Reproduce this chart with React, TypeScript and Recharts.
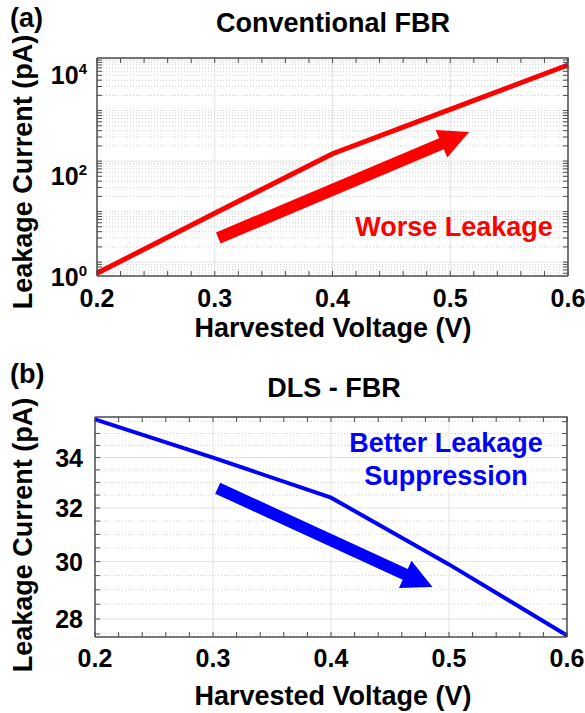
import { Line, LineChart, ReferenceLine, XAxis, YAxis } from "recharts";

const voltage = [0.2, 0.3, 0.4, 0.5, 0.6];
const conventionalLeakage = [0.6, 9.3, 140, 1060, 8000];
const dlsLeakage = [35.6, 34.0, 32.4, 29.9, 27.45];

const xMajorTicks = [0.2, 0.3, 0.4, 0.5, 0.6];
const xMinorTicks = [
  0.2, 0.22, 0.24, 0.26, 0.28, 0.3, 0.32, 0.34, 0.36, 0.38, 0.4, 0.42, 0.44, 0.46, 0.48, 0.5, 0.52,
  0.54, 0.56, 0.58, 0.6,
];
const logMajorTicks = [1, 100, 10000];
const linMajorTicks = [28, 30, 32, 34];
const linMinorTicks = [
  27.5, 28, 28.5, 29, 29.5, 30, 30.5, 31, 31.5, 32, 32.5, 33, 33.5, 34, 34.5, 35, 35.5,
];

// arrow annotations, in data units (tail -> tip)
const worseArrow = [
  { x: 0.303, y: 3.0 },
  { x: 0.516, y: 375 },
];
const betterArrow = [
  { x: 0.304, y: 32.77 },
  { x: 0.486, y: 29.1 },
];

const X_DOMAIN: [number, number] = [0.2, 0.6];
const LOG_DOMAIN: [number, number] = [0.53, 11000];
const LIN_DOMAIN: [number, number] = [27.4, 35.7];

// minor ticks of the log axis: 1..9 per decade
const logMinorTicks: number[] = [];
for (const decade of [0.1, 1, 10, 100, 1000]) {
  for (let m = 1; m <= 9; m++) {
    const v = +(m * decade).toPrecision(3);
    if (v >= LOG_DOMAIN[0]) logMinorTicks.push(v);
  }
}
logMinorTicks.push(10000);

// page layout: where each chart sits and where its plot box is
const W = 585;
const PANEL_A = { top: 0, height: 345, left: 97, plotTop: 58, right: 568, bottom: 276 };
const PANEL_B = { top: 345, height: 368, left: 95, plotTop: 417, right: 567, bottom: 637 };

const FONT = "'Liberation Sans', Arial, sans-serif";
const FRAME = "#4a4a4a";
const GRID = "#e2e2e2";
const MINOR_GRID = "#d0d0d0";
const TICK_LEN = 5;

const conventionalData = voltage.map((v, i) => ({ v, leak: conventionalLeakage[i] }));
const dlsData = voltage.map((v, i) => ({ v, leak: dlsLeakage[i] }));

const isMajorX = (value: number) => xMajorTicks.some((t) => Math.abs(t - value) < 1e-6);

function XTick({ x, y, payload, dy }: any) {
  if (!isMajorX(payload.value)) return null;
  return (
    <text x={x} y={y + dy} textAnchor="middle" fontFamily={FONT} fontWeight="bold" fontSize={25} fill="#000">
      {payload.value.toFixed(1)}
    </text>
  );
}

function LogTick({ x, y, payload }: any) {
  if (!logMajorTicks.includes(payload.value)) return null;
  const exp = Math.round(Math.log10(payload.value));
  return (
    <text x={x - 10} y={y + 24} textAnchor="end" fontFamily={FONT} fontWeight="bold" fontSize={25} fill="#000">
      <tspan>10</tspan>
      <tspan dy={-10} fontSize={15}>
        {exp}
      </tspan>
    </text>
  );
}

function LinTick({ x, y, payload }: any) {
  if (!linMajorTicks.includes(payload.value)) return null;
  return (
    <text x={x - 12} y={y + 9} textAnchor="end" fontFamily={FONT} fontWeight="bold" fontSize={25} fill="#000">
      {payload.value}
    </text>
  );
}

function arrowShape(color: string) {
  return (props: any) => {
    const { x1, y1, x2, y2 } = props;
    const dx = x2 - x1;
    const dy = y2 - y1;
    const len = Math.hypot(dx, dy);
    const ux = dx / len;
    const uy = dy / len;
    const nx = -uy;
    const ny = ux;
    const bw = 6;
    const hw = 15;
    const hl = 30;
    const bx = x2 - ux * hl;
    const by = y2 - uy * hl;
    const pts = [
      [x1 + nx * bw, y1 + ny * bw],
      [bx + nx * bw, by + ny * bw],
      [bx + nx * hw, by + ny * hw],
      [x2, y2],
      [bx - nx * hw, by - ny * hw],
      [bx - nx * bw, by - ny * bw],
      [x1 - nx * bw, y1 - ny * bw],
    ];
    return <polygon points={pts.map((p) => p.join(",")).join(" ")} fill={color} />;
  };
}

const frameAxis = { stroke: FRAME, strokeWidth: 1.5 };

// closing top and right sides of a plot box, with inward minor ticks
function BoxTopRight({ panel, yDomain, yTicks }: any) {
  const { left, plotTop, right, bottom } = panel;
  const px = (v: number) => left + ((v - X_DOMAIN[0]) / (X_DOMAIN[1] - X_DOMAIN[0])) * (right - left);
  const lo = Math.log10(yDomain[0]);
  const hi = Math.log10(yDomain[1]);
  const py = (v: number) => bottom - ((Math.log10(v) - lo) / (hi - lo)) * (bottom - plotTop);
  return (
    <g>
      {xMinorTicks.map((v) => (
        <line key={"t" + v} x1={px(v)} x2={px(v)} y1={plotTop} y2={plotTop + TICK_LEN} stroke={FRAME} />
      ))}
      {yTicks.map((v: number) => (
        <line key={"r" + v} x1={right} x2={right - TICK_LEN} y1={py(v)} y2={py(v)} stroke={FRAME} />
      ))}
      <polyline
        points={`${left},${plotTop} ${right},${plotTop} ${right},${bottom}`}
        fill="none"
        stroke={FRAME}
        strokeWidth={1.5}
      />
    </g>
  );
}

function gridLines(majorY: number[], minorY: number[]) {
  return [
    ...minorY
      .filter((v) => !majorY.includes(v))
      .map((v) => <ReferenceLine key={"m" + v} y={v} stroke={MINOR_GRID} strokeDasharray="1 2" />),
    ...majorY.map((v) => <ReferenceLine key={"M" + v} y={v} stroke={GRID} />),
    ...xMajorTicks.slice(1, -1).map((v) => <ReferenceLine key={"x" + v} x={v} stroke={GRID} />),
  ];
}

function ConventionalChart() {
  const p = PANEL_A;
  return (
    <LineChart
      width={W}
      height={p.height}
      data={conventionalData}
      margin={{ top: p.plotTop - p.top, right: W - p.right, bottom: 0, left: 0 }}
    >
      {gridLines(logMajorTicks, logMinorTicks)}
      <XAxis
        dataKey="v"
        type="number"
        domain={X_DOMAIN}
        ticks={xMinorTicks}
        interval={0}
        axisLine={frameAxis}
        tickLine={{ stroke: FRAME }}
        tickSize={-TICK_LEN}
        tickMargin={TICK_LEN}
        height={p.top + p.height - p.bottom}
        tick={<XTick dy={31} />}
      />
      <YAxis
        type="number"
        scale="log"
        domain={LOG_DOMAIN}
        allowDataOverflow
        ticks={logMinorTicks}
        interval={0}
        axisLine={frameAxis}
        tickLine={{ stroke: FRAME }}
        tickSize={-TICK_LEN}
        tickMargin={TICK_LEN}
        width={p.left}
        tick={<LogTick />}
      />
      <ReferenceLine segment={worseArrow} shape={arrowShape("#ff0000")} />
      <Line type="linear" dataKey="leak" stroke="#ff0000" strokeWidth={5} dot={false} isAnimationActive={false} />
    </LineChart>
  );
}

function DlsChart() {
  const p = PANEL_B;
  return (
    <LineChart
      width={W}
      height={p.height}
      data={dlsData}
      margin={{ top: p.plotTop - p.top, right: W - p.right, bottom: 0, left: 0 }}
    >
      {gridLines(linMajorTicks, linMinorTicks)}
      <XAxis
        dataKey="v"
        type="number"
        domain={X_DOMAIN}
        ticks={xMinorTicks}
        interval={0}
        axisLine={frameAxis}
        tickLine={{ stroke: FRAME }}
        tickSize={-TICK_LEN}
        tickMargin={TICK_LEN}
        height={p.top + p.height - p.bottom}
        tick={<XTick dy={30} />}
      />
      <YAxis
        type="number"
        scale="log"
        domain={LIN_DOMAIN}
        allowDataOverflow
        ticks={linMinorTicks}
        interval={0}
        axisLine={frameAxis}
        tickLine={{ stroke: FRAME }}
        tickSize={-TICK_LEN}
        tickMargin={TICK_LEN}
        width={p.left}
        tick={<LinTick />}
      />
      <ReferenceLine segment={betterArrow} shape={arrowShape("#0000ff")} />
      <Line type="linear" dataKey="leak" stroke="#0000ff" strokeWidth={4} dot={false} isAnimationActive={false} />
    </LineChart>
  );
}

const textStyle = { fontFamily: FONT, fontWeight: "bold" as const, fontSize: 27 };

export default function App() {
  return (
    <div style={{ position: "absolute", left: 0, top: 0, width: W, height: 713, background: "#fff" }}>
      <div style={{ position: "absolute", left: 0, top: PANEL_A.top }}>
        <ConventionalChart />
      </div>
      <div style={{ position: "absolute", left: 0, top: PANEL_B.top }}>
        <DlsChart />
      </div>
      <svg width={W} height={713} style={{ position: "absolute", left: 0, top: 0, pointerEvents: "none" }}>
        <BoxTopRight panel={PANEL_A} yDomain={LOG_DOMAIN} yTicks={logMinorTicks} />
        <BoxTopRight panel={PANEL_B} yDomain={LIN_DOMAIN} yTicks={linMinorTicks} />

        <text x={10} y={27} {...textStyle}>(a)</text>
        <text x={333} y={32} textAnchor="middle" {...textStyle}>Conventional FBR</text>
        <text x={32} y={172} textAnchor="middle" transform="rotate(-90 32 172)" {...textStyle}>
          Leakage Current (pA)
        </text>
        <text x={333} y={337} textAnchor="middle" {...textStyle}>Harvested Voltage (V)</text>
        <text x={454} y={236} textAnchor="middle" {...textStyle} fill="#ff0000">Worse Leakage</text>

        <text x={10} y={383} {...textStyle}>(b)</text>
        <text x={334} y={397} textAnchor="middle" {...textStyle}>DLS - FBR</text>
        <text x={32} y={535} textAnchor="middle" transform="rotate(-90 32 535)" {...textStyle}>
          Leakage Current (pA)
        </text>
        <text x={333} y={705} textAnchor="middle" {...textStyle}>Harvested Voltage (V)</text>
        <text x={446} y={452} textAnchor="middle" {...textStyle} fill="#0000ff">Better Leakage</text>
        <text x={446} y={485} textAnchor="middle" {...textStyle} fill="#0000ff">Suppression</text>
      </svg>
    </div>
  );
}
